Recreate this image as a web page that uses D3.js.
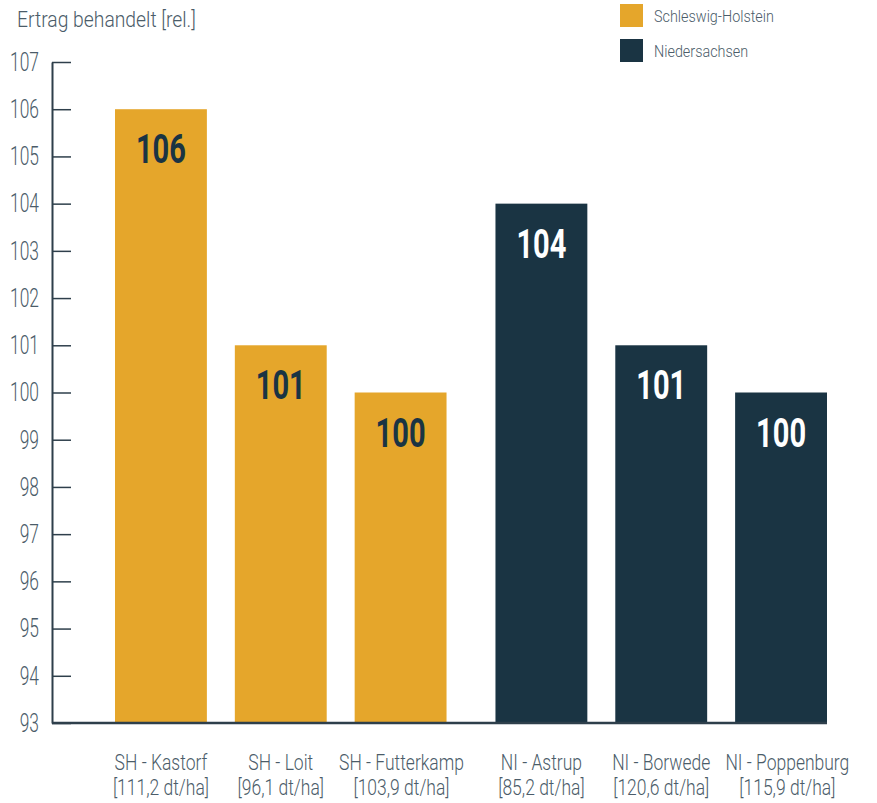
<!DOCTYPE html>
<html><head><meta charset="utf-8">
<script src="https://cdn.jsdelivr.net/npm/d3@7"></script>
<style>
body{margin:0;background:#fff;}
text{font-family:Roboto,"Open Sans",sans-serif;font-weight:300;}
</style></head><body>
<svg id="c" width="877" height="803"></svg>
<script>
const groups = ["SH","NI"];
const categories = ["SH - Kastorf","SH - Loit","SH - Futterkamp","NI - Astrup","NI - Borwede","NI - Poppenburg"];
const yieldLabels = ["[111,2 dt/ha]","[96,1 dt/ha]","[103,9 dt/ha]","[85,2 dt/ha]","[120,6 dt/ha]","[115,9 dt/ha]"];
const categoryGroup = ["SH","SH","SH","NI","NI","NI"];
const values = [106,101,100,104,101,100];
const legendLabels = ["Schleswig-Holstein","Niedersachsen"];
const yTicks = [93,94,95,96,97,98,99,100,101,102,103,104,105,106,107];

const colors = {SH:"#E5A62B", NI:"#1A3443"};
const textCol = "#4B5C69";
const axisCol = "#2E3F4B";

const svg = d3.select("#c");

function calib(size, weight, sample, target){
  const t = svg.append("text").style("font-size",size+"px").style("font-weight",weight).text(sample);
  const w = t.node().getComputedTextLength(); t.remove();
  return target / w;
}
// horizontal condensing via a scale transform around the text anchor
function condense(sel, k){
  sel.each(function(){
    const s = d3.select(this);
    const w = this.getComputedTextLength();
    this.__w = w*k;
    const x = +s.attr("x") || 0, yy = +s.attr("y") || 0;
    s.attr("x",0).attr("y",0).attr("transform",`translate(${x},${yy}) scale(${k},1)`);
  });
  return sel;
}

const y = d3.scaleLinear().domain([93,107]).range([723,62]);
const xOuter = d3.scaleBand().domain(groups).range([115,827]).paddingInner(0.1286).paddingOuter(0);
const xInner = d3.scaleBand().domain([0,1,2]).range([0,xOuter.bandwidth()]).paddingInner(0.2333).paddingOuter(0);
const idxInGroup = categories.map((c,i)=> categoryGroup.slice(0,i).filter(g=>g===categoryGroup[i]).length);
const xPos = i => xOuter(categoryGroup[i]) + xInner(idxInGroup[i]);
const bw = xInner.bandwidth();

// title
const title = svg.append("text").attr("x",17).attr("y",27).attr("fill",textCol)
  .style("font-size","22px").text("Ertrag behandelt [rel.]");
condense(title, calib(22,300,"Ertrag behandelt [rel.]",179));

// bars
svg.selectAll("rect.bar").data(values).join("rect").attr("class","bar")
  .attr("x",(d,i)=>xPos(i)).attr("width",bw)
  .attr("y",d=>y(d)).attr("height",d=>y(93)-y(d))
  .attr("fill",(d,i)=>colors[categoryGroup[i]]);

// value labels
const vl = svg.selectAll("text.val").data(values).join("text").attr("class","val")
  .attr("x",(d,i)=>xPos(i)+bw/2).attr("y",d=>y(d)+54)
  .attr("text-anchor","middle")
  .attr("fill",(d,i)=>categoryGroup[i]==="SH" ? "#1A3443" : "#ffffff")
  .style("font-size","41px").style("font-weight","bold")
  .text(d=>d);
condense(vl, calib(41,"bold","106",50));

// y axis
const yAxis = d3.axisLeft(y).tickValues(yTicks).tickFormat(d3.format("d"))
  .tickSizeInner(-19).tickSizeOuter(0).tickPadding(13);
const ga = svg.append("g").attr("transform","translate(52,0)").call(yAxis);
ga.attr("font-family",null).attr("font-size",null);
ga.select(".domain").attr("stroke",axisCol).attr("stroke-width",2);
ga.selectAll(".tick line").attr("stroke",axisCol).attr("stroke-width",1.5);
const tt = ga.selectAll(".tick text").attr("fill",textCol).style("font-size","26px");
condense(tt, calib(26,300,"100",29));

// baseline
svg.append("line").attr("x1",52).attr("x2",xOuter.range()[1])
  .attr("y1",y(93)).attr("y2",y(93)).attr("stroke",axisCol).attr("stroke-width",2.5);

// x labels (centred under bars, nudged right to keep a minimum gap)
const xl = svg.selectAll("g.xl").data(categories).join("g").attr("class","xl");
const kx = calib(22.5,300,"SH - Futterkamp",125);
condense(xl.append("text").attr("class","l1").attr("y",770).attr("text-anchor","middle").attr("fill",textCol)
  .style("font-size","22.5px").text(d=>d), kx);
condense(xl.append("text").attr("class","l2").attr("y",795).attr("text-anchor","middle").attr("fill",textCol)
  .style("font-size","22.5px").text((d,i)=>yieldLabels[i]), kx);
const minGap = 15;
let prevRight = -Infinity;
xl.each(function(d,i){
  const g = d3.select(this);
  const w = Math.max(g.select(".l1").node().__w, g.select(".l2").node().__w);
  let cx = xPos(i)+bw/2;
  if (cx - w/2 < prevRight + minGap) cx = prevRight + minGap + w/2;
  prevRight = cx + w/2;
  g.attr("transform",`translate(${cx},0)`);
});

// legend
const lg = svg.selectAll("g.lg").data(legendLabels).join("g").attr("class","lg")
  .attr("transform",(d,i)=>`translate(620,${4+i*35})`);
lg.append("rect").attr("width",23).attr("height",23).attr("fill",(d,i)=>colors[groups[i]]);
condense(lg.append("text").attr("x",34).attr("y",18).attr("fill",textCol)
  .style("font-size","16.5px").text(d=>d), calib(16.5,300,"Schleswig-Holstein",120));
</script>
</body></html>
